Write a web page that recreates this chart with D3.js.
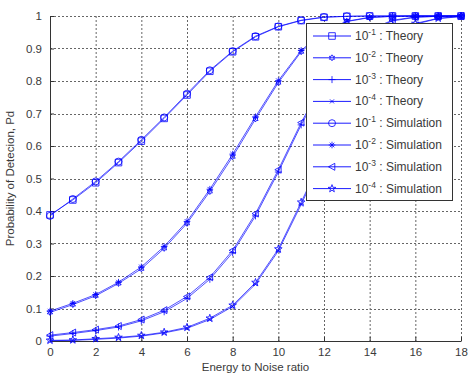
<!DOCTYPE html>
<html>
<head>
<meta charset="utf-8">
<script src="https://cdn.jsdelivr.net/npm/d3@7/dist/d3.min.js"></script>
<style>
  body { margin: 0; background: #fff; }
  svg { display: block; font-family: "Liberation Sans", Arial, sans-serif; }
</style>
</head>
<body>
<svg id="chart" width="472" height="375"></svg>
<script>
// data --------------------------------------------------------------
const snr = [0, 1, 2, 3, 4, 5, 6, 7, 8, 9, 10, 11, 12, 13, 14, 15, 16, 17, 18];

const theory1 = [0.388, 0.434, 0.487, 0.549, 0.615, 0.685, 0.757, 0.830, 0.890, 0.936, 0.967, 0.986, 0.996, 0.999, 1, 1, 1, 1, 1];
const theory2 = [0.088, 0.112, 0.139, 0.177, 0.222, 0.285, 0.362, 0.460, 0.567, 0.683, 0.795, 0.890, 0.950, 0.983, 0.995, 0.999, 1, 1, 1];
const theory3 = [0.015, 0.023, 0.032, 0.043, 0.062, 0.090, 0.131, 0.190, 0.272, 0.385, 0.520, 0.665, 0.795, 0.895, 0.955, 0.985, 0.996, 0.999, 1];
const theory4 = [0.001, 0.002, 0.005, 0.009, 0.015, 0.025, 0.039, 0.066, 0.106, 0.175, 0.277, 0.420, 0.570, 0.720, 0.845, 0.930, 0.975, 0.992, 0.998];

const sim1 = [0.385, 0.437, 0.491, 0.552, 0.619, 0.688, 0.761, 0.833, 0.892, 0.938, 0.968, 0.987, 0.997, 0.999, 1, 1, 1, 1, 1];
const sim2 = [0.092, 0.116, 0.143, 0.181, 0.228, 0.291, 0.368, 0.467, 0.575, 0.690, 0.801, 0.894, 0.953, 0.984, 0.996, 0.999, 1, 1, 1];
const sim3 = [0.018, 0.026, 0.035, 0.046, 0.066, 0.095, 0.137, 0.196, 0.279, 0.392, 0.527, 0.672, 0.801, 0.900, 0.958, 0.987, 0.997, 0.999, 1];
const sim4 = [0.002, 0.003, 0.007, 0.011, 0.017, 0.027, 0.042, 0.070, 0.110, 0.180, 0.283, 0.427, 0.576, 0.726, 0.850, 0.933, 0.977, 0.993, 0.999];

const seriesNames = ['-1', '-2', '-3', '-4', '-1', '-2', '-3', '-4'];
const seriesKinds = ['Theory', 'Theory', 'Theory', 'Theory', 'Simulation', 'Simulation', 'Simulation', 'Simulation'];
const seriesMarkers = ['square', 'hexagram', 'plus', 'cross', 'circle', 'asterisk', 'triangle', 'pentagram'];
const seriesValues = [theory1, theory2, theory3, theory4, sim1, sim2, sim3, sim4];

const xTicks = [0, 2, 4, 6, 8, 10, 12, 14, 16, 18];
const yTicks = [0, 0.1, 0.2, 0.3, 0.4, 0.5, 0.6, 0.7, 0.8, 0.9, 1];

// layout ------------------------------------------------------------
const margin = { top: 16, right: 11, bottom: 34, left: 50 };
const W = 472, H = 375;
const width = W - margin.left - margin.right;
const height = H - margin.top - margin.bottom;
const blue = '#0000ff';
const textCol = '#3a3a3a';

const svg = d3.select('#chart');
svg.append('rect').attr('width', W).attr('height', H).attr('fill', '#fff');
const g = svg.append('g').attr('transform', 'translate(' + margin.left + ',' + margin.top + ')');

const x = d3.scaleLinear().domain([0, 18]).range([0, width]);
const y = d3.scaleLinear().domain([0, 1]).range([height, 0]);

// marker shapes, centred at 0,0
function markerPath(type, s) {
    const p = d3.path();
    if (type === 'square') {
        p.rect(-s, -s, 2 * s, 2 * s);
    } else if (type === 'circle') {
        p.arc(0, 0, s, 0, 2 * Math.PI);
        p.closePath();
    } else if (type === 'plus') {
        p.moveTo(-s, 0); p.lineTo(s, 0); p.moveTo(0, -s); p.lineTo(0, s);
    } else if (type === 'cross') {
        p.moveTo(-s, -s); p.lineTo(s, s); p.moveTo(-s, s); p.lineTo(s, -s);
    } else if (type === 'asterisk') {
        p.moveTo(-s, 0); p.lineTo(s, 0); p.moveTo(0, -s); p.lineTo(0, s);
        const d = s * 0.7;
        p.moveTo(-d, -d); p.lineTo(d, d); p.moveTo(-d, d); p.lineTo(d, -d);
    } else if (type === 'triangle') {
        p.moveTo(-s, 0); p.lineTo(s * 0.8, -s); p.lineTo(s * 0.8, s); p.closePath();
    } else if (type === 'pentagram' || type === 'hexagram') {
        const n = type === 'pentagram' ? 5 : 6;
        const inner = type === 'pentagram' ? 0.4 : 0.55;
        for (let i = 0; i < 2 * n; i++) {
            const r = i % 2 === 0 ? s : s * inner;
            const a = -Math.PI / 2 + i * Math.PI / n;
            if (i === 0) p.moveTo(r * Math.cos(a), r * Math.sin(a));
            else p.lineTo(r * Math.cos(a), r * Math.sin(a));
        }
        p.closePath();
    }
    return p.toString();
}
const markerSize = { square: 3.3, hexagram: 3, plus: 3.5, cross: 2, circle: 3.5, asterisk: 3.3, triangle: 3.5, pentagram: 4 };

// grid ----------------------------------------------------------------
g.append('g').selectAll('line').data(xTicks).join('line')
    .attr('x1', d => x(d) + 0.5).attr('x2', d => x(d) + 0.5)
    .attr('y1', 0).attr('y2', height)
    .attr('stroke', '#666').attr('stroke-dasharray', '2,2').attr('stroke-width', 1);
g.append('g').selectAll('line').data(yTicks).join('line')
    .attr('y1', d => Math.round(y(d)) + 0.5).attr('y2', d => Math.round(y(d)) + 0.5)
    .attr('x1', 0).attr('x2', width)
    .attr('stroke', '#666').attr('stroke-dasharray', '2,2').attr('stroke-width', 1);

// axes --------------------------------------------------------------
const xAxis = d3.axisBottom(x).tickValues(xTicks).tickSizeInner(-4).tickSizeOuter(0).tickPadding(7);
const yAxis = d3.axisLeft(y).tickValues(yTicks).tickSizeInner(-4).tickSizeOuter(0).tickPadding(8)
    .tickFormat(d => d === 0 || d === 1 ? String(d) : d3.format('.1f')(d));

const gx = g.append('g').attr('transform', 'translate(0,' + height + ')').call(xAxis);
const gy = g.append('g').call(yAxis);
[gx, gy].forEach(a => {
    a.select('.domain').attr('stroke', '#333');
    a.selectAll('.tick line').attr('stroke', '#333');
    a.selectAll('.tick text').attr('fill', textCol).attr('font-size', 11.5)
        .attr('font-family', '"Liberation Sans", Arial, sans-serif');
});

g.append('text').attr('x', width / 2).attr('y', height + 30)
    .attr('text-anchor', 'middle').attr('font-size', 11.5).attr('fill', textCol)
    .text('Energy to Noise ratio');
g.append('text').attr('transform', 'translate(' + (-36) + ',' + (height / 2) + ') rotate(-90)')
    .attr('text-anchor', 'middle').attr('font-size', 11.5).attr('fill', textCol)
    .text('Probability of Detecion, Pd');

// series ------------------------------------------------------------
const line = d3.line().x((d, i) => x(snr[i])).y(d => y(d));
seriesValues.forEach((vals, k) => {
    const m = seriesMarkers[k];
    g.append('path').datum(vals).attr('d', line)
        .attr('fill', 'none').attr('stroke', blue).attr('stroke-width', 0.8).attr('stroke-opacity', 0.85);
    g.append('g').selectAll('path').data(vals).join('path')
        .attr('transform', (d, i) => 'translate(' + x(snr[i]) + ',' + y(d) + ')')
        .attr('d', markerPath(m, markerSize[m]))
        .attr('fill', 'none').attr('stroke', blue).attr('stroke-width', 0.8);
});

// legend ------------------------------------------------------------
const lg = svg.append('g').attr('transform', 'translate(306,23)');
lg.append('rect').attr('x', 0.5).attr('y', 0.5).attr('width', 146).attr('height', 177)
    .attr('fill', '#fff').attr('stroke', '#333').attr('stroke-width', 1);
seriesNames.forEach((nm, k) => {
    const cy = 13 + k * 21.8;
    const m = seriesMarkers[k];
    lg.append('line').attr('x1', 7).attr('x2', 45).attr('y1', cy).attr('y2', cy)
        .attr('stroke', blue).attr('stroke-width', 0.9);
    lg.append('path').attr('transform', 'translate(26,' + cy + ')')
        .attr('d', markerPath(m, markerSize[m]))
        .attr('fill', 'none').attr('stroke', blue).attr('stroke-width', 0.8);
    const t = lg.append('text').attr('x', 49).attr('y', cy + 4).attr('font-size', 12).attr('fill', textCol);
    t.append('tspan').text('10');
    t.append('tspan').attr('dy', -5).attr('font-size', 8.5).text(nm);
    t.append('tspan').attr('dy', 5).text(' : ' + seriesKinds[k]);
});
</script>
</body>
</html>
